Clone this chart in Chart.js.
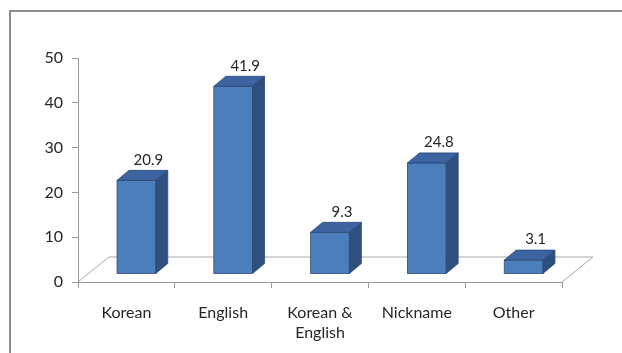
<!DOCTYPE html>
<html>
<head>
<meta charset="utf-8">
<script src="https://cdn.jsdelivr.net/npm/chart.js@4/dist/chart.umd.min.js"></script>
<style>
  html, body { margin: 0; padding: 0; background: #fff; }
  #wrap { position: relative; width: 622px; height: 353px; }
  #frame { position: absolute; left: 9px; top: 10px; width: 640px; height: 400px;
           border-left: 2px solid #8c8c8c; border-top: 2px solid #8c8c8c; box-sizing: border-box; }
</style>
</head>
<body>
<div id="wrap">
  <div id="frame"></div>
  <canvas id="myChart" width="622" height="353"></canvas>
</div>
<script>
const categories = ["Korean", "English", ["Korean &", "English"], "Nickname", "Other"];
const values = [20.9, 41.9, 9.3, 24.8, 3.1];
const yTicks = [0, 10, 20, 30, 40, 50];

const fontFamily = "Lato, 'Open Sans', sans-serif";
const textColor = "#262626";
const axisColor = "#9a9a9a";

// fake 3d: floor depth, where the bars stand on it and how deep each bar is
const floorOff = { dx: 31, dy: -25 };
const barOff = { dx: 10, dy: -8 };
const barDepth = { dx: 12, dy: -10 };

const frontColor = "#4d7ebc";
const topColor = "#3b64a0";
const sideColor = "#2f4f7f";
const edgeColor = "#2c4a78";

const fake3d = {
  id: "fake3d",
  beforeDatasetsDraw(chart) {
    const ctx = chart.ctx;
    const a = chart.chartArea;
    ctx.save();
    ctx.strokeStyle = "#a8a8a8";
    ctx.lineWidth = 1;
    ctx.beginPath();
    ctx.moveTo(a.left, a.bottom);
    ctx.lineTo(a.left + floorOff.dx, a.bottom + floorOff.dy);
    ctx.lineTo(a.right + floorOff.dx, a.bottom + floorOff.dy);
    ctx.lineTo(a.right, a.bottom);
    ctx.stroke();
    ctx.restore();
  },
  afterDatasetsDraw(chart) {
    const ctx = chart.ctx;
    const meta = chart.getDatasetMeta(0);
    ctx.save();
    ctx.lineWidth = 0.8;
    ctx.strokeStyle = edgeColor;
    meta.data.forEach((bar, i) => {
      const p = bar.getProps(["x", "y", "base", "width"], true);
      const l = p.x - p.width / 2 + barOff.dx;
      const r = p.x + p.width / 2 + barOff.dx;
      const t = p.y + barOff.dy;
      const b = p.base + barOff.dy;
      const dx = barDepth.dx, dy = barDepth.dy;

      // front
      ctx.fillStyle = frontColor;
      ctx.fillRect(l, t, r - l, b - t);
      ctx.strokeRect(l, t, r - l, b - t);
      // top
      ctx.fillStyle = topColor;
      ctx.beginPath();
      ctx.moveTo(l, t);
      ctx.lineTo(l + dx, t + dy);
      ctx.lineTo(r + dx, t + dy);
      ctx.lineTo(r, t);
      ctx.closePath();
      ctx.fill();
      ctx.stroke();
      // right side
      ctx.fillStyle = sideColor;
      ctx.beginPath();
      ctx.moveTo(r, t);
      ctx.lineTo(r + dx, t + dy);
      ctx.lineTo(r + dx, b + dy);
      ctx.lineTo(r, b);
      ctx.closePath();
      ctx.fill();
      ctx.stroke();

      // value label
      ctx.fillStyle = textColor;
      ctx.font = "15px " + fontFamily;
      ctx.textAlign = "center";
      ctx.textBaseline = "bottom";
      ctx.fillText(values[i].toFixed(1), (l + r) / 2 + dx, t + dy - 3);
    });
    ctx.restore();
  }
};

const ctx1 = document.getElementById("myChart").getContext("2d");
const myChart = new Chart(ctx1, {
  type: "bar",
  data: {
    labels: categories,
    datasets: [
      {
        label: "Name",
        data: values,
        backgroundColor: "rgba(0,0,0,0)",
        borderWidth: 0,
        barPercentage: 0.5,
        categoryPercentage: 0.8,
      },
    ],
  },
  options: {
    responsive: false,
    animation: false,
    layout: { padding: { left: 0, right: 60, top: 58, bottom: 0 } },
    plugins: {
      legend: { display: false },
      tooltip: { enabled: false },
    },
    scales: {
      x: {
        afterFit: (s) => { s.height = 71; },
        grid: { display: true, drawOnChartArea: false, drawTicks: true, tickLength: 6, color: axisColor, offset: true },
        border: { display: true, color: axisColor, width: 1 },
        ticks: { color: textColor, font: { family: fontFamily, size: 16, lineHeight: 1.3 }, padding: 14, maxRotation: 0, autoSkip: false },
      },
      y: {
        min: 0,
        max: 50,
        afterFit: (s) => { s.width = 78; },
        afterBuildTicks: (s) => { s.ticks = yTicks.map((v) => ({ value: v })); },
        grid: { display: true, drawOnChartArea: false, drawTicks: true, tickLength: 6, color: axisColor },
        border: { display: true, color: axisColor, width: 1 },
        ticks: { color: textColor, font: { family: fontFamily, size: 16 }, padding: 9 },
      },
    },
  },
  plugins: [fake3d],
});
</script>
</body>
</html>
